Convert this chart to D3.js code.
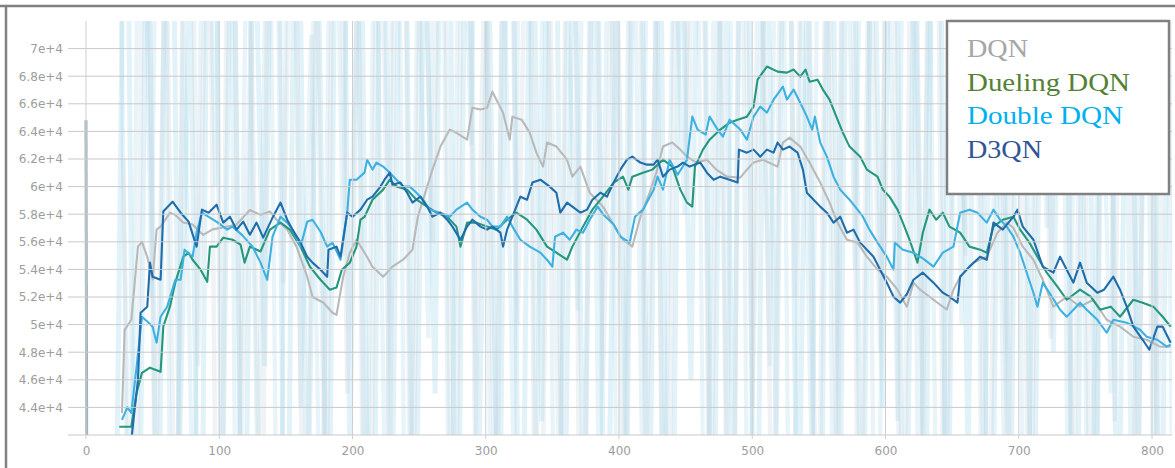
<!DOCTYPE html>
<html><head><meta charset="utf-8">
<script src="https://cdn.jsdelivr.net/npm/d3@7/dist/d3.min.js"></script>
<style>body{margin:0;background:#fff}svg{display:block}</style>
</head><body>
<svg id="chart" width="1175" height="468"></svg>
<script>
// ---------- data ----------
const seriesNames = ["DQN", "Dueling DQN", "Double DQN", "D3QN"];
const xTicks = [0, 100, 200, 300, 400, 500, 600, 700, 800];
const xTickLabels = ["0", "100", "200", "300", "400", "500", "600", "700", "800"];
const yTicks = [44000, 46000, 48000, 50000, 52000, 54000, 56000, 58000, 60000, 62000, 64000, 66000, 68000, 70000];
const yTickLabels = ["4.4e+4", "4.6e+4", "4.8e+4", "5e+4", "5.2e+4", "5.4e+4", "5.6e+4", "5.8e+4", "6e+4", "6.2e+4", "6.4e+4", "6.6e+4", "6.8e+4", "7e+4"];

const dqnSteps = [27,29,34,39,42,46,50,53,56,63,67,73,80,88,95,106,113,123,131,138,143,151,158,166,170,178,185,188,193,198,203,211,215,223,230,238,245,249,256,260,266,273,278,286,290,296,301,305,308,313,318,320,327,333,338,343,346,353,361,365,371,378,388,395,403,410,416,423,428,433,440,446,451,458,466,473,481,491,496,501,508,519,523,528,536,543,551,558,564,571,579,586,594,601,609,616,621,626,636,646,651,656,666,676,684,691,696,703,711,718,726,736,746,756,766,776,786,796,806,814];
const dqnValues = [43600,49600,50350,55650,56000,54900,53250,56900,57100,58100,57950,57400,57250,56500,56900,57100,57250,58300,57950,58200,57600,56900,55650,53470,52000,51600,50860,50700,53470,55200,56150,54900,54200,53470,54200,54700,55430,57800,60000,61230,62900,64130,63900,63400,65720,65580,65700,66880,66300,65360,63400,65070,64850,63900,62460,61450,63190,62900,61950,60720,61450,59560,58550,57390,56150,55650,57800,59560,61000,62900,63190,62680,62170,61740,61950,61230,60720,60650,61230,61740,61950,61450,63190,63550,62900,61740,60290,58840,57390,56150,55940,54920,53980,53470,52530,51300,53040,52530,51800,51080,52530,53470,54490,54920,56660,57390,57000,55650,54700,53250,51300,52020,51300,51800,50350,49850,49120,48900,48400,48400];

const duelingSteps = [25,31,34,38,42,48,56,58,63,67,73,77,80,86,91,93,98,103,110,116,119,123,131,138,146,153,161,168,176,183,188,192,198,203,206,209,215,223,228,233,241,248,256,263,271,278,281,286,293,301,308,316,323,331,338,346,353,361,365,373,380,388,396,403,407,410,418,425,433,440,446,451,455,457,463,468,476,483,489,496,501,504,511,519,526,531,536,540,543,549,553,558,564,568,573,581,586,594,598,603,609,613,618,624,628,633,638,643,648,656,663,671,676,681,688,696,701,708,714,721,729,736,746,754,761,769,776,786,793,801,808,814];
const duelingValues = [42600,42600,42600,45060,46500,46880,46580,49850,51300,53040,54920,55200,54700,53980,53100,55650,55650,56300,56150,55800,54490,55650,55300,56880,57390,56880,55650,54200,53250,52530,52680,53980,54490,55650,57600,57800,59050,59780,60500,60000,59780,59050,58550,58110,57820,57100,55650,57390,57390,57100,56880,57600,58110,57600,56880,55650,55210,54700,55650,57100,58330,59270,60290,60720,59780,60720,61000,61230,61950,61450,59780,58840,58550,61450,62680,63400,64130,64630,64850,65070,65800,67750,68700,68330,68260,68480,67970,68480,67600,67750,67030,66300,64850,63910,62900,62170,61230,60720,59780,59270,58330,57390,56150,54490,56660,58330,57600,58110,57100,56660,55650,55430,55210,57100,57600,57820,56880,55940,54920,53760,52750,51800,52530,52020,51080,51300,50570,51800,51590,51300,50570,49850];

const doubleSteps = [27,31,34,38,42,47,50,53,56,61,67,71,74,80,83,87,93,99,106,110,117,125,131,136,140,146,151,155,161,166,170,176,181,185,191,196,198,203,209,211,215,218,223,228,233,238,243,248,253,258,266,273,278,286,290,296,301,305,311,316,320,326,333,341,346,350,352,358,363,368,373,378,384,388,396,401,408,412,418,426,429,433,438,444,451,455,459,465,468,474,478,483,491,496,501,506,511,516,523,526,531,536,541,545,547,551,556,561,566,573,579,583,588,594,601,606,607,613,621,628,636,643,651,656,663,669,676,681,686,691,696,701,706,711,714,718,723,731,736,746,751,759,766,771,781,791,796,804,811,814];
const doubleValues = [43100,44000,43600,46950,50570,50140,49850,48690,50570,51300,53250,53250,55430,54920,56660,58110,57750,57390,56880,57100,56500,55650,54490,53250,56370,57820,57390,56880,55650,57460,57600,56730,55650,55940,54700,58110,60500,60500,61010,61950,61230,61740,61450,61010,60500,60000,60000,59560,59050,58330,58110,57820,58330,58840,58330,57820,57600,57100,57100,57820,57100,56150,55650,55210,54700,54200,56370,56660,56150,56880,56660,57600,58550,58000,57250,56370,55940,57820,58330,59780,60720,59780,61950,60860,61950,65070,64130,63770,65070,64130,63620,64850,64130,63400,65070,65800,65360,66300,67250,66300,67030,66080,65070,64130,65070,63190,62170,60720,59780,59050,58330,57820,56880,55940,54920,53980,55940,55430,55210,54800,54200,55210,55650,58110,58330,58110,57390,58330,57600,57100,56370,55210,53760,52310,51300,53040,52310,51080,50570,51590,51080,50350,49410,50350,50140,49630,49120,48900,48400,48550];

const d3qnSteps = [34,39,41,46,48,50,56,58,65,71,77,83,87,92,98,103,108,113,118,123,128,133,140,146,151,155,161,166,170,176,181,182,188,191,196,200,206,211,215,221,224,228,230,236,241,245,251,256,260,266,271,275,281,286,290,296,301,305,311,313,316,320,326,331,335,341,348,353,356,361,365,371,376,380,386,391,396,401,406,410,416,421,426,429,433,438,444,448,453,461,466,471,476,483,489,490,496,501,506,511,516,519,523,528,534,538,541,546,551,556,561,566,571,576,581,586,591,596,601,606,611,616,621,628,636,643,648,654,656,663,671,676,681,688,696,699,703,711,718,726,731,736,741,746,751,759,764,771,776,781,786,793,798,804,808,814];
const d3qnValues = [41650,46000,50860,51300,54490,53470,53250,58190,58910,58110,57460,55650,58330,58110,58690,57390,57820,56880,57460,56510,57390,56300,57750,58840,57600,56880,55940,54920,54490,53980,53470,55430,55650,54920,58110,57820,58330,59050,59270,60000,60500,61010,60140,60290,59560,58840,59270,58550,57820,58110,57600,57100,56150,57100,57600,57100,56880,57100,56660,55650,56880,57820,59270,59050,60290,60500,60000,59560,58110,58840,58550,58110,58330,59050,59560,59270,60290,61230,61950,62170,61740,61590,61590,61950,60720,61230,61450,61740,61450,61740,61010,60500,60720,60500,60290,62680,62460,62680,62170,62680,62460,63190,62680,62900,62460,61230,59560,59050,58550,58110,57390,57820,56660,56880,55940,55430,54920,53980,53040,52020,51590,52200,53250,53760,53040,52310,52020,51590,53470,54200,54920,54700,57390,56880,57820,58330,57100,56150,54200,53760,54920,53980,53040,54490,53040,52310,52530,53470,52530,51300,49850,48900,48180,49850,49850,48690];

// raw (unsmoothed) episode rewards, shown faintly behind the smoothed curves
const rawStartSteps = [0, 1];
const rawStartValues = [64800, 20000];
const rawAValues = [30000,95000,12000,88000,25000,110000,40000,76000,18000,120000,35000,90000,20000,84000,47000,105000,15000,98000,33000,79000,26000,115000,41000,87000,10000,93000,38000,102000,22000,81000,45000,125000,17000,96000,36000,78000,28000,108000,14000,89000,43000,118000,24000,85000,32000,99000,19000,77000,39000,112000,27000,91000,11000,83000,46000,104000,21000,95000,34000,122000,16000,86000,42000,101000,29000,80000,13000,97000,37000,114000,23000,88000,44000,106000,18000,82000,31000,119000,25000,92000,40000,100000,15000,79000,35000,110000,20000,87000,48000,103000,12000,94000,30000,116000,26000,84000,41000,98000,22000,90000];
const rawBValues = [85000,20000,101000,52000,118000,9000,74000,31000,96000,60000,127000,24000,83000,37000,92000,15000,109000,44000,71000,28000,99000,55000,121000,18000,86000,33000,104000,12000,78000,49000,113000,26000,90000,63000,107000,21000,82000,39000,124000,30000,94000,16000,75000,51000,111000,35000,88000,8000,97000,42000,117000,27000,80000,58000,102000,19000,93000,36000,126000,23000,84000,47000,108000,14000,76000,38000,119000,29000,91000,54000,100000,17000,85000,43000,115000,32000,79000,10000,96000,50000,112000,25000,89000,40000,105000,13000,81000,57000,120000,34000,92000,21000,77000,45000,110000,28000,95000,37000,103000,18000];
const rawCValues = [62000,14000,97000,36000,81000,22000,116000,47000,89000,11000,103000,40000,72000,27000,123000,53000,94000,19000,84000,31000,110000,45000,77000,16000,100000,38000,126000,24000,87000,56000,95000,13000,106000,42000,80000,29000,114000,50000,91000,20000,75000,34000,121000,9000,98000,46000,83000,25000,109000,39000,73000,17000,101000,59000,118000,30000,86000,12000,93000,44000,78000,26000,112000,52000,96000,15000,88000,35000,125000,22000,82000,48000,104000,18000,90000,41000,117000,28000,76000,55000,99000,11000,85000,37000,107000,23000,92000,49000,113000,32000,79000,14000,102000,43000,120000,27000,87000,39000,97000,20000];
const rawAFirstStep = 22, rawBFirstStep = 25, rawCFirstStep = 28, rawStepGap = 8;

// ---------- styles ----------
const lineColors = ["#b9b9b9", "#25977c", "#3db1e2", "#1f6dab"];
const legendColors = ["#a6a6a6", "#548235", "#00b0f0", "#2f5597"];
const legendWidths = [61, 163, 156, 75];

const W = 1175, H = 468;
const plot = {left: 70, right: 1172, top: 21, bottom: 435};

const svg = d3.select("#chart");
const x = d3.scaleLinear().domain([-12, 815]).range([plot.left, plot.right]);
const y = d3.scaleLinear().domain([42000, 72000]).range([plot.bottom, plot.top]);

svg.append("rect").attr("width", W).attr("height", H).attr("fill", "#fff");

svg.append("defs").append("clipPath").attr("id", "clip")
  .append("rect").attr("x", plot.left).attr("y", plot.top)
  .attr("width", plot.right - plot.left).attr("height", plot.bottom - plot.top);

const line = d3.line().x(d => x(d[0])).y(d => y(d[1]));
const clipG = svg.append("g").attr("clip-path", "url(#clip)");

// raw streaks
const rawSets = [
  {vals: rawAValues, start: rawAFirstStep, color: "#8ccbe7", op: 0.26, w: 5},
  {vals: rawBValues, start: rawBFirstStep, color: "#a3d3e9", op: 0.26, w: 4.2},
  {vals: rawCValues, start: rawCFirstStep, color: "#c3d2dc", op: 0.26, w: 4.6}
];
rawSets.forEach(r => {
  const pts = r.vals.map((v, i) => [r.start + i * rawStepGap, v]);
  clipG.append("path").attr("d", line(pts)).attr("fill", "none")
    .attr("stroke", r.color).attr("stroke-opacity", r.op).attr("stroke-width", r.w);
});
clipG.append("path").attr("d", line(d3.zip(rawStartSteps, rawStartValues)))
  .attr("fill", "none").attr("stroke", "#9db3bf").attr("stroke-width", 3);

// grid
const gridG = svg.append("g");
gridG.selectAll("line.h").data(yTicks.concat([42000])).join("line")
  .attr("x1", plot.left - 2).attr("x2", plot.right)
  .attr("y1", d => y(d)).attr("y2", d => y(d))
  .attr("stroke", "#c9c9c9").attr("stroke-width", 1);
gridG.selectAll("line.v").data(xTicks).join("line")
  .attr("x1", d => x(d)).attr("x2", d => x(d))
  .attr("y1", plot.top).attr("y2", plot.bottom + 4)
  .attr("stroke", "#cfcfcf").attr("stroke-width", 1);

// smoothed curves
const series = [
  [dqnSteps, dqnValues], [duelingSteps, duelingValues],
  [doubleSteps, doubleValues], [d3qnSteps, d3qnValues]
];
series.forEach((s, i) => {
  clipG.append("path").attr("d", line(d3.zip(s[0], s[1]))).attr("fill", "none")
    .attr("stroke", lineColors[i]).attr("stroke-width", 2.1).attr("stroke-linejoin", "round");
});

// axes
const yAxis = d3.axisLeft(y).tickValues(yTicks).tickFormat((d, i) => yTickLabels[i]).tickSize(0).tickPadding(7);
const yG = svg.append("g").attr("transform", `translate(${plot.left},0)`).call(yAxis);
yG.select(".domain").remove();
yG.selectAll("text").attr("font-family", "DejaVu Sans, sans-serif").attr("font-size", 12).attr("fill", "#9d9d9d");

const xAxis = d3.axisBottom(x).tickValues(xTicks).tickFormat((d, i) => xTickLabels[i]).tickSize(0).tickPadding(11);
const xG = svg.append("g").attr("transform", `translate(0,${plot.bottom})`).call(xAxis);
xG.select(".domain").remove();
xG.selectAll("text").attr("font-family", "DejaVu Sans, sans-serif").attr("font-size", 12).attr("fill", "#9d9d9d");

// frame
svg.append("line").attr("x1", 0).attr("x2", W).attr("y1", 6).attr("y2", 6).attr("stroke", "#808080").attr("stroke-width", 2.5);
svg.append("line").attr("x1", 6).attr("x2", 6).attr("y1", 6).attr("y2", H).attr("stroke", "#808080").attr("stroke-width", 2.5);

// legend
const lg = svg.append("g");
lg.append("rect").attr("x", 947).attr("y", 21).attr("width", 222).attr("height", 173)
  .attr("fill", "#fff").attr("stroke", "#808080").attr("stroke-width", 2.5);
lg.selectAll("text").data(seriesNames).join("text")
  .attr("x", 967).attr("y", (d, i) => 57 + i * 33.7)
  .attr("font-family", "Liberation Serif, Times New Roman, serif").attr("font-size", 26)
  .attr("fill", (d, i) => legendColors[i])
  .attr("textLength", (d, i) => legendWidths[i]).attr("lengthAdjust", "spacingAndGlyphs")
  .text(d => d);
</script>
</body></html>
